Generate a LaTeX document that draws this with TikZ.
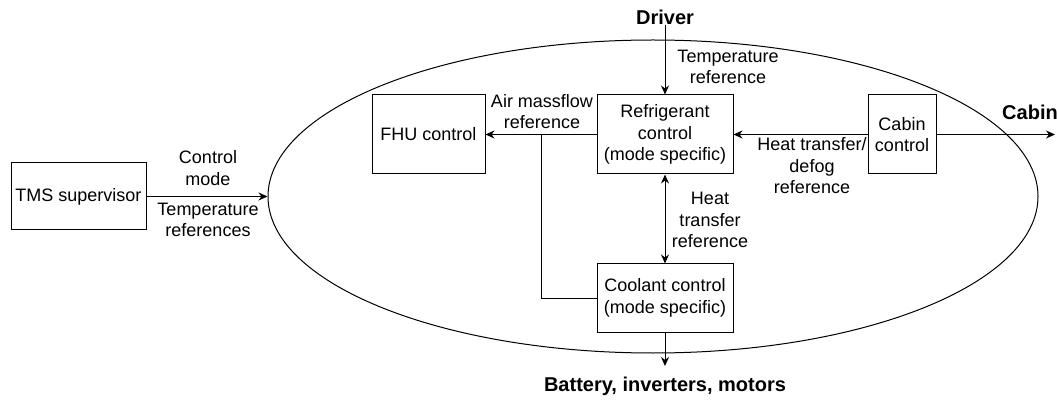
\documentclass[tikz,border=0pt]{standalone}
\usepackage{fontspec}
\setmainfont{Liberation Sans}
\usetikzlibrary{arrows.meta,shapes.geometric}
\tikzset{
  block/.style={draw, line width=1pt, inner sep=0pt, align=center,
    font=\fontsize{18}{21.5}\selectfont},
  lbl/.style={inner sep=0pt, align=center, font=\fontsize{18}{21.5}\selectfont},
  hdr/.style={inner sep=0pt, align=center, font=\fontsize{20}{24}\selectfont\bfseries},
  conn/.style={line width=1pt, -{Stealth[length=9pt,width=8pt]}},
  link/.style={line width=1pt},
}
\begin{document}
\begin{tikzpicture}[x=1pt,y=-1pt]
\useasboundingbox (0,0) rectangle (1057,403);

% control domain boundary
\node[draw, line width=1pt, ellipse, minimum width=770pt, minimum height=313pt, inner sep=0pt] (env) at (653,196.5) {};

% controllers
\node[block, minimum width=135pt, minimum height=67pt] (tms) at (78.5,196.5) {TMS supervisor};
\node[block, minimum width=113pt, minimum height=79pt] (fhu) at (428.5,134.5) {FHU control};
\node[block, minimum width=136pt, minimum height=79pt] (ref) at (665,134.5) {Refrigerant\\control\\(mode specific)};
\node[block, minimum width=68pt, minimum height=79pt] (cab) at (902,134.5) {Cabin\\control};
\node[block, minimum width=136pt, minimum height=68pt] (cool) at (665,298) {Coolant control\\(mode specific)};

% external actors
\node[hdr] (driver) at (665,17) {Driver};
\node[hdr] (cabin) at (1030,112) {Cabin};
\node[hdr] (batt) at (665,386) {Battery, inverters, motors};
\coordinate (cabout) at (1055,134.5);
\coordinate (battin) at (665,366);

% signals
\draw[conn] (tms.east) -- (tms.east -| env.west);
\draw[conn] (driver.south) -- (ref.north);
\draw[conn] (ref.west) -- (fhu.east);
\coordinate (tap) at (541,134.5);
\draw[link] (tap) |- (cool.west);
\draw[conn] (cab.west) -- (ref.east);
\draw[conn] (cab.east) -- (cabout);
\draw[line width=1pt, {Stealth[length=9pt,width=8pt]}-{Stealth[length=9pt,width=8pt]}] (ref.south) -- (cool.north);
\draw[conn] (cool.south) -- (battin);

% signal labels
\node[lbl] (lcm) at (208,168) {Control\\mode};
\node[lbl] (ltr) at (208,220) {Temperature\\references};
\node[lbl] (ltemp) at (728,67) {Temperature\\reference};
\node[lbl] (lair) at (542,111.5) {Air massflow\\reference};
\node[lbl] (lhd) at (812,166) {Heat transfer/\\defog\\reference};
\node[lbl] (lht) at (710,220) {Heat\\transfer\\reference};
\end{tikzpicture}
\end{document}
